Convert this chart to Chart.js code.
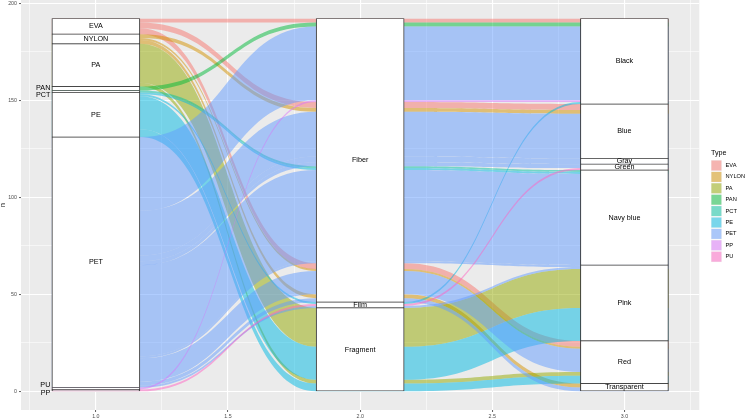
<!DOCTYPE html>
<html>
<head>
<meta charset="utf-8">
<script src="https://cdn.jsdelivr.net/npm/chart.js@4.4.1/dist/chart.umd.min.js"></script>
<style>
html,body{margin:0;padding:0;background:#ffffff;}
#c{display:block;}
</style>
</head>
<body>
<canvas id="c" width="745" height="419"></canvas>
<script>
// ---------- data ----------
const typeLevels  = ['EVA','NYLON','PA','PAN','PCT','PE','PET','PP','PU'];
const typeColors  = ['#F8766D','#D39200','#93AA00','#00BA38','#00C19F','#00B9E3','#619CFF','#DB72FB','#FF61C3'];
const shapeLevels = ['Fiber','Film','Fragment'];
const colorLevels = ['Black','Blue','Gray','Green','Navy blue','Pink','Red','Transparent'];

// one entry per alluvium (Type -> Shape -> Color, count n)
const flowType  = ['EVA','EVA','EVA','NYLON','NYLON','NYLON','PA','PA','PAN','PCT','PE','PE','PE','PE',
                   'PET','PET','PET','PET','PET','PET','PET','PET','PET','PP','PU'];
const flowShape = ['Fiber','Fiber','Fiber','Fiber','Fiber','Fiber','Fragment','Fragment','Fiber','Fiber','Fiber','Film','Fragment','Fragment',
                   'Fiber','Fiber','Fiber','Fiber','Fiber','Fiber','Fiber','Fiber','Film','Fiber','Film'];
const flowColor = ['Black','Blue','Red','Blue','Red','Transparent','Pink','Red','Black','Navy blue','Navy blue','Black','Pink','Red',
                   'Black','Blue','Gray','Green','Navy blue','Pink','Red','Transparent','Pink','Black','Green'];
const flowCount = [2,3,3,2,1,2,20,2,2,1,1,1,17,4,
                   38,23,3,2,47,1,12,2,1,1,1];

const axisPositions = [1,2,3];
const xTickValues = [0.75,1,1.25,1.5,1.75,2,2.25,2.5,2.75,3,3.25];
const xTickLabels = {1:'1.0',1.5:'1.5',2:'2.0',2.5:'2.5',3:'3.0'};
const yTickValues = [0,25,50,75,100,125,150,175,200];
const yTickLabels = {0:'0',50:'50',100:'100',150:'150',200:'200'};

// ---------- derived layout (through scales) ----------
const STRATUM_W = 1/3;
const total = flowCount.reduce((a,b)=>a+b,0);
function stackLodes(group, gLev, k1, l1, k2, l2){
  const order = flowCount.map((_,i)=>i).sort((a,b)=>
    gLev.indexOf(group[a])-gLev.indexOf(group[b]) ||
    l1.indexOf(k1[a])-l1.indexOf(k1[b]) ||
    l2.indexOf(k2[a])-l2.indexOf(k2[b]));
  const top=[],bot=[]; let cur=total;
  order.forEach(i=>{top[i]=cur; cur-=flowCount[i]; bot[i]=cur;});
  return {top,bot};
}
const lodes = [
  stackLodes(flowType,typeLevels,flowShape,shapeLevels,flowColor,colorLevels),
  stackLodes(flowShape,shapeLevels,flowColor,colorLevels,flowType,typeLevels),
  stackLodes(flowColor,colorLevels,flowShape,shapeLevels,flowType,typeLevels)
];
const axisVars = [[flowType,typeLevels],[flowShape,shapeLevels],[flowColor,colorLevels]];
const strata = [];
axisVars.forEach(([arr,lev],k)=>{
  let cur = total;
  lev.forEach(l=>{
    const n = flowCount.reduce((s,c,i)=>s+(arr[i]===l?c:0),0);
    if(n>0){ strata.push({x:axisPositions[k], lo:cur-n, hi:cur, label:l}); cur-=n; }
  });
});
const xLo = axisPositions[0]-STRATUM_W/2, xHi = axisPositions[2]+STRATUM_W/2;
const xMin = xLo-0.05*(xHi-xLo), xMax = xHi+0.05*(xHi-xLo);
const yMin = -0.05*total, yMax = total*1.05;

// labels pushed outside the (too thin) strata, as in the original
const outsideNudge = {PAN:0.4, PCT:-1.6, PP:-2.2, PU:2.6};

function rgba(hex,a){
  const r=parseInt(hex.slice(1,3),16),g=parseInt(hex.slice(3,5),16),b=parseInt(hex.slice(5,7),16);
  return `rgba(${r},${g},${b},${a})`;
}
const FONT = '"Liberation Sans", Arial, sans-serif';

const panelBg = {
  id:'panelBg',
  beforeDraw(chart){
    const {ctx, chartArea:a} = chart;
    ctx.save(); ctx.fillStyle='#EBEBEB';
    ctx.fillRect(a.left,a.top,a.right-a.left,a.bottom-a.top);
    ctx.restore();
  }
};

const flowPlugin = {
  id:'flows',
  beforeDatasetsDraw(chart){
    const {ctx, chartArea:a} = chart;
    const xs = chart.scales.x, ys = chart.scales.y;
    ctx.save();
    ctx.beginPath(); ctx.rect(a.left,a.top,a.right-a.left,a.bottom-a.top); ctx.clip();
    for(let i=0;i<flowCount.length;i++){
      if(flowCount[i]<=0) continue;
      ctx.fillStyle = rgba(typeColors[typeLevels.indexOf(flowType[i])],0.5);
      ctx.beginPath();
      for(let k=0;k<3;k++){
        const xl = xs.getPixelForValue(axisPositions[k]-STRATUM_W/2);
        const xr = xs.getPixelForValue(axisPositions[k]+STRATUM_W/2);
        const yt = ys.getPixelForValue(lodes[k].top[i]);
        if(k===0){ ctx.moveTo(xl,yt); }
        else {
          const pxr = xs.getPixelForValue(axisPositions[k-1]+STRATUM_W/2);
          const pyt = ys.getPixelForValue(lodes[k-1].top[i]);
          const m = (pxr+xl)/2;
          ctx.bezierCurveTo(m,pyt,m,yt,xl,yt);
        }
        ctx.lineTo(xr,yt);
      }
      for(let k=2;k>=0;k--){
        const xl = xs.getPixelForValue(axisPositions[k]-STRATUM_W/2);
        const xr = xs.getPixelForValue(axisPositions[k]+STRATUM_W/2);
        const yb = ys.getPixelForValue(lodes[k].bot[i]);
        if(k===2){ ctx.lineTo(xr,yb); }
        else {
          const nxl = xs.getPixelForValue(axisPositions[k+1]-STRATUM_W/2);
          const nyb = ys.getPixelForValue(lodes[k+1].bot[i]);
          const m = (xr+nxl)/2;
          ctx.bezierCurveTo(m,nyb,m,yb,xr,yb);
        }
        ctx.lineTo(xl,yb);
      }
      ctx.closePath();
      ctx.fill();
    }
    ctx.restore();
  }
};

const labelPlugin = {
  id:'stratumLabels',
  afterDatasetsDraw(chart){
    const {ctx} = chart;
    const xs = chart.scales.x, ys = chart.scales.y;
    ctx.save();
    ctx.fillStyle='#000000';
    ctx.font = '7.2px '+FONT;
    ctx.textBaseline='middle';
    strata.forEach(s=>{
      const mid = (s.lo+s.hi)/2;
      if(s.x===axisPositions[0] && outsideNudge[s.label]!==undefined){
        ctx.textAlign='right';
        ctx.fillText(s.label, xs.getPixelForValue(s.x-STRATUM_W/2)-1.5, ys.getPixelForValue(mid+outsideNudge[s.label]));
      } else {
        ctx.textAlign='center';
        ctx.fillText(s.label, xs.getPixelForValue(s.x), ys.getPixelForValue(mid));
      }
    });
    ctx.restore();
  }
};

const legendPlugin = {
  id:'typeLegend',
  afterDraw(chart){
    const {ctx} = chart;
    const x0 = chart.chartArea.right + 11.7;
    const yTitle = 153.3, y0 = 165.5, step = 11.4;
    ctx.save();
    ctx.fillStyle='#000000';
    ctx.font='7.2px '+FONT; ctx.textAlign='left'; ctx.textBaseline='middle';
    ctx.fillText('Type', x0, yTitle);
    ctx.font='5.7px '+FONT;
    typeLevels.forEach((t,i)=>{
      const cy = y0+i*step;
      ctx.fillStyle='#F2F2F2'; ctx.fillRect(x0, cy-5.4, 10.8, 10.8);
      ctx.fillStyle=rgba(typeColors[i],0.5); ctx.fillRect(x0+0.4, cy-5, 10, 10);
      ctx.fillStyle='#000000'; ctx.fillText(t, x0+14.5, cy);
    });
    ctx.restore();
  }
};

const tickVal = c => (c && c.tick) ? c.tick.value : NaN;
const isMajorX = v => xTickLabels[v]!==undefined;
const isMajorY = v => yTickLabels[v]!==undefined;

new Chart(document.getElementById('c'),{
  type:'bar',
  data:{
    datasets:[{
      data: strata.map(s=>({x:s.x, y:[s.lo,s.hi]})),
      backgroundColor:'#FFFFFF',
      borderColor:'#333333',
      borderWidth:{left:1,right:1,top:0.7,bottom:0.7},
      borderSkipped:false,
      barThickness:88,
      grouped:false
    }]
  },
  options:{
    responsive:false,
    animation:false,
    events:[],
    layout:{padding:{left:0,top:0,right:45.7,bottom:0}},
    plugins:{legend:{display:false},tooltip:{enabled:false}},
    scales:{
      x:{
        type:'linear', min:xMin, max:xMax, bounds:'data', offset:false,
        afterBuildTicks(s){ s.ticks = xTickValues.map(v=>({value:v})); },
        afterFit(s){ s.height=9; s.paddingLeft=0; s.paddingRight=0; },
        ticks:{autoSkip:false, maxRotation:0, minRotation:0, padding:1,
               color:'#4D4D4D', font:{family:FONT,size:5.3},
               callback:(v)=> xTickLabels[v]!==undefined ? xTickLabels[v] : ''},
        grid:{offset:false, color:'#FFFFFF', lineWidth:c=> isMajorX(tickVal(c))?1.1:0.55,
              drawTicks:true, tickLength:2, tickWidth:0.8,
              tickColor:c=> isMajorX(tickVal(c))?'#333333':'rgba(0,0,0,0)'},
        border:{display:false}
      },
      y:{
        type:'linear', min:yMin, max:yMax, bounds:'data', offset:false,
        afterBuildTicks(s){ s.ticks = yTickValues.map(v=>({value:v})); },
        afterFit(s){ s.width=21; s.paddingTop=0; s.paddingBottom=0; },
        title:{display:true, text:'n', color:'#000000', font:{family:FONT,size:7,lineHeight:1}, padding:0},
        ticks:{autoSkip:false, padding:2, color:'#4D4D4D', font:{family:FONT,size:5.3},
               callback:(v)=> yTickLabels[v]!==undefined ? yTickLabels[v] : ''},
        grid:{offset:false, color:'#FFFFFF', lineWidth:c=> isMajorY(tickVal(c))?1.1:0.55,
              drawTicks:true, tickLength:2, tickWidth:0.8,
              tickColor:c=> isMajorY(tickVal(c))?'#333333':'rgba(0,0,0,0)'},
        border:{display:false}
      }
    }
  },
  plugins:[panelBg, flowPlugin, labelPlugin, legendPlugin]
});
</script>
</body>
</html>
